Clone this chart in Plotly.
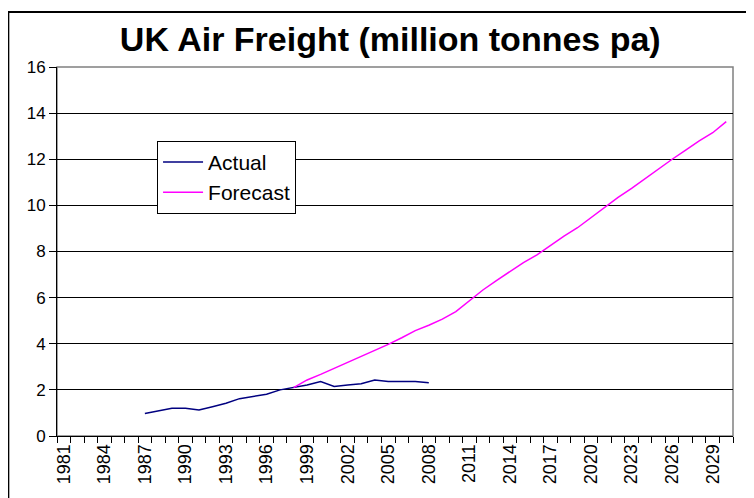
import plotly.graph_objects as go

years_actual = list(range(1987, 2009))
actual = [0.98, 1.10, 1.20, 1.20, 1.13, 1.27, 1.42, 1.62, 1.73, 1.81, 2.00,
          2.10, 2.21, 2.36, 2.15, 2.21, 2.27, 2.43, 2.36, 2.36, 2.36, 2.31]

years_forecast = list(range(1998, 2031))
forecast = [2.10, 2.43, 2.67, 2.93, 3.18, 3.44, 3.69, 3.97, 4.26, 4.57, 4.80,
            5.07, 5.39, 5.87, 6.33, 6.74, 7.13, 7.52, 7.85, 8.27, 8.67, 9.03,
            9.47, 9.88, 10.35, 10.74, 11.17, 11.61, 12.00, 12.40, 12.80, 13.15,
            13.63]

all_years = list(range(1981, 2031))
tick_years = list(range(1981, 2031, 3))
tick_text = [str(y) for y in tick_years]

FONT = "Liberation Sans, Arial, sans-serif"

fig = go.Figure()
fig.add_trace(go.Scatter(x=years_actual, y=actual, mode="lines", name="Actual",
                         line=dict(color="#000080", width=1.5)))
fig.add_trace(go.Scatter(x=years_forecast, y=forecast, mode="lines", name="Forecast",
                         line=dict(color="#FF00FF", width=1.5)))

fig.update_layout(
    width=754, height=498,
    margin=dict(l=49, r=29, t=59, b=70),
    paper_bgcolor="white", plot_bgcolor="white",
    font=dict(family=FONT, size=17, color="black"),
    title=dict(text="<b>UK Air Freight (million tonnes pa)</b>",
               font=dict(family=FONT, size=34, color="black"),
               x=0.507, xanchor="center", y=0.938, yanchor="middle"),
    showlegend=True,
    legend=dict(x=0.148, y=0.80, xanchor="left", yanchor="top",
                bgcolor="white", bordercolor="black", borderwidth=1,
                font=dict(family=FONT, size=21, color="black"),
                tracegroupgap=0, itemwidth=40),
    xaxis=dict(
        range=[1980.5, 2030.5], tickmode="array", tickvals=tick_years,
        ticktext=tick_text, tickangle=-90, ticks="", showgrid=False,
        showline=True, linecolor="black", linewidth=1, zeroline=False,
        tickfont=dict(family=FONT, size=18, color="black"),
        minor=dict(tickmode="array", tickvals=[y - 0.5 for y in all_years] + [2030.5],
                   ticks="outside", ticklen=6, tickcolor="black", showgrid=False),
    ),
    yaxis=dict(
        range=[0, 16], dtick=2, tick0=0, ticks="outside", ticklen=7,
        tickcolor="black", showline=True, linecolor="black", linewidth=1,
        showgrid=True, gridcolor="black", gridwidth=1, zeroline=False,
        tickfont=dict(family=FONT, size=17, color="black"),
    ),
    shapes=[
        dict(type="rect", xref="paper", yref="paper", x0=0, x1=1, y0=0, y1=1,
             line=dict(color="#808080", width=1.5), layer="below"),
        dict(type="rect", xref="paper", yref="paper", x0=-0.072, x1=1.2,
             y0=-0.4, y1=1.149, line=dict(color="black", width=2)),
    ],
)

fig.write_html("out.html")
